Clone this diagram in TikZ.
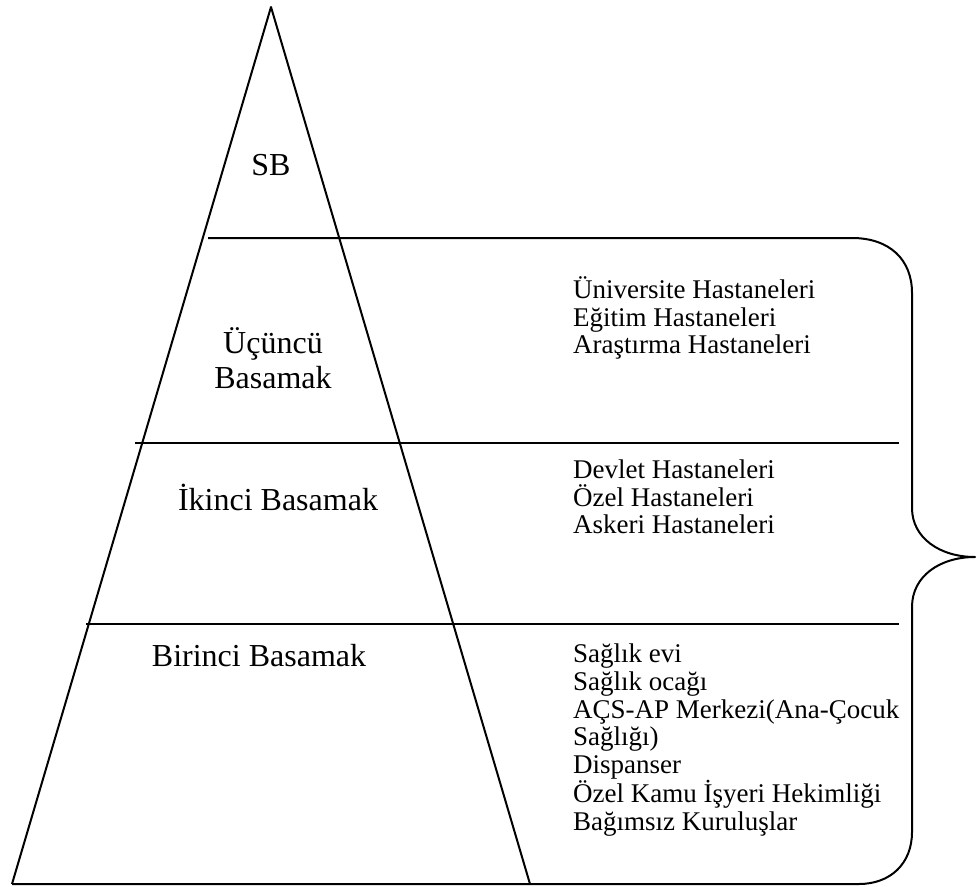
\documentclass[tikz,border=0pt]{standalone}
\usepackage{fontspec}
\setmainfont{Liberation Serif}
\begin{document}
\begin{tikzpicture}[x=1pt,y=-1pt,
  edge/.style={line width=2pt,line join=round},
  lvl/.style={font=\fontsize{32}{35}\selectfont,align=center,inner sep=0pt},
  lst/.style={font=\fontsize{27}{27.7}\selectfont,align=left,anchor=west,inner sep=0pt}]
\useasboundingbox (0,0) rectangle (977,886);
\coordinate (apex) at (271,7);
\coordinate (bl) at (12,884);
\coordinate (br) at (530,884);
\coordinate (l1a) at (208,238);
\coordinate (l1b) at (852,238);
\coordinate (l2a) at (135,443);
\coordinate (l2b) at (899,443);
\coordinate (l3a) at (86,624);
\coordinate (l3b) at (899,624);
\coordinate (bb) at (859,884);
\coordinate (tip) at (975,557);
% pyramid
\draw[edge] (bl) -- (apex) -- (br);
\draw[edge] (l2a) -- (l2b);
\draw[edge] (l3a) -- (l3b);
% top line, brace and base
\draw[edge] (l1a) -- (l1b) .. controls (890,238) and (912,260) .. (912,293)
  -- (912,508) .. controls (912,538) and (940,557) .. (tip)
  .. controls (940,557) and (912,576) .. (912,607)
  -- (912,832) .. controls (912,864) and (890,884) .. (bb) -- (bl);
% labels
\node[lvl] (sb) at (271,165) {SB};
\node[lvl] (ucuncu) at (273,358) {Üçüncü\\Basamak};
\node[lvl] (ikinci) at (278,497) {İkinci Basamak};
\node[lvl] (birinci) at (259,656) {Birinci Basamak};
\node[lst] (l3) at (573,318) {Üniversite Hastaneleri\\Eğitim Hastaneleri\\Araştırma Hastaneleri};
\node[lst] (l2) at (573,497) {Devlet Hastaneleri\\Özel Hastaneleri\\Askeri Hastaneleri};
\node[lst] (l1) at (573,740) {Sağlık evi\\Sağlık ocağı\\AÇS-AP Merkezi(Ana-Çocuk\\Sağlığı)\\Dispanser\\Özel Kamu İşyeri Hekimliği\\Bağımsız Kuruluşlar};
\end{tikzpicture}
\end{document}
